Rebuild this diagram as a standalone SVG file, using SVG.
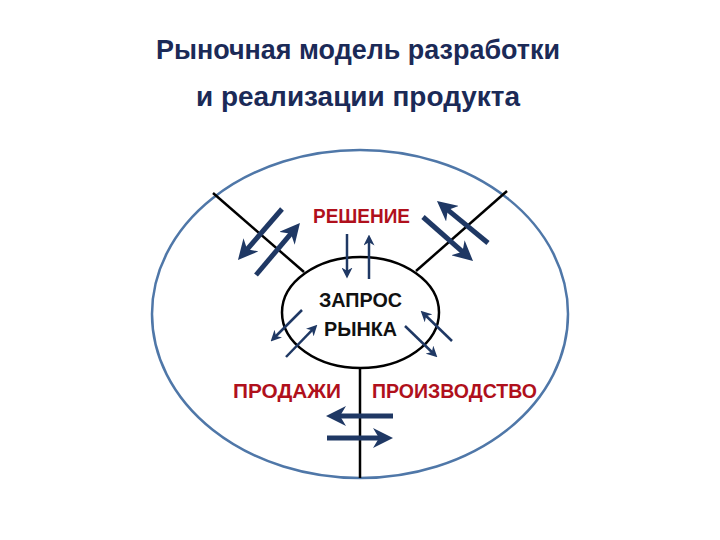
<svg xmlns="http://www.w3.org/2000/svg" width="720" height="540" viewBox="0 0 720 540">
<style>
.title{font-family:"Liberation Sans","DejaVu Sans",sans-serif;font-weight:bold;font-size:28px;fill:#1b2a57;text-anchor:middle}
.red{font-family:"Liberation Sans","DejaVu Sans",sans-serif;font-weight:bold;font-size:20px;fill:#b0101c;text-anchor:middle}
.blk{font-family:"Liberation Sans","DejaVu Sans",sans-serif;font-weight:bold;font-size:21px;fill:#111;text-anchor:middle}
.ln{stroke:#000;stroke-width:2.5;fill:none}
.big{stroke:#1f3864;stroke-width:5;fill:none;marker-end:url(#hb)}
.sm{stroke:#1f3864;stroke-width:2.5;fill:none;marker-end:url(#hs)}
</style>
<defs>
<marker id="hb" viewBox="0 0 10 10" refX="5" refY="5" markerWidth="20" markerHeight="20" markerUnits="userSpaceOnUse" orient="auto">
<path d="M0,0 L10,5 L0,10 L3,5 z" fill="#1f3864"/>
</marker>
<marker id="hs" viewBox="0 0 10 10" refX="5" refY="5" markerWidth="11" markerHeight="11" markerUnits="userSpaceOnUse" orient="auto">
<path d="M0,0 L10,5 L0,10 L3,5 z" fill="#1f3864"/>
</marker>
</defs>
<rect width="720" height="540" fill="#fff"/>
<g id="title">
<text class="title" x="358" y="59" textLength="404" lengthAdjust="spacingAndGlyphs">Рыночная модель разработки</text>
<text class="title" x="358" y="106" textLength="324" lengthAdjust="spacingAndGlyphs">и реализации продукта</text>
</g>
<g id="outer"><ellipse cx="360" cy="314" rx="208" ry="164" fill="none" stroke="#4f77a8" stroke-width="2.5"/></g>
<g id="connectors">
<line class="ln" x1="213" y1="193" x2="304" y2="272"/>
<line class="ln" x1="507" y1="191" x2="416" y2="271"/>
<line class="ln" x1="360" y1="368" x2="360" y2="478"/>
</g>
<g id="market"><ellipse cx="360.5" cy="312.5" rx="78.5" ry="55.5" fill="none" stroke="#000" stroke-width="2.5"/>
<text class="blk" x="360.5" y="307" textLength="83" lengthAdjust="spacingAndGlyphs">ЗАПРОС</text>
<text class="blk" x="360.5" y="336" textLength="73" lengthAdjust="spacingAndGlyphs">РЫНКА</text>
</g>
<g id="decision"><text class="red" x="361.5" y="223" textLength="97" lengthAdjust="spacingAndGlyphs">РЕШЕНИЕ</text></g>
<g id="sales"><text class="red" x="287" y="398" textLength="108" lengthAdjust="spacingAndGlyphs">ПРОДАЖИ</text></g>
<g id="production"><text class="red" x="454.5" y="398" textLength="165" lengthAdjust="spacingAndGlyphs">ПРОИЗВОДСТВО</text></g>
<g id="arrows">
<line class="big" x1="282" y1="209" x2="244.5" y2="252.4"/>
<line class="big" x1="256" y1="275" x2="293.5" y2="230.6"/>
<line class="big" x1="488" y1="243" x2="444.7" y2="207.4"/>
<line class="big" x1="423" y1="217" x2="465.5" y2="254.4"/>
<line class="big" x1="393" y1="416" x2="336" y2="416"/>
<line class="big" x1="327" y1="438" x2="383" y2="438"/>
<line class="sm" x1="347" y1="234" x2="347" y2="273"/>
<line class="sm" x1="369" y1="279" x2="369" y2="240"/>
<line class="sm" x1="302" y1="310" x2="274.5" y2="337.5"/>
<line class="sm" x1="286" y1="357" x2="313.5" y2="328.6"/>
<line class="sm" x1="452" y1="341" x2="424.6" y2="314.5"/>
<line class="sm" x1="405" y1="326" x2="433.4" y2="353.5"/>
</g>
</svg>
